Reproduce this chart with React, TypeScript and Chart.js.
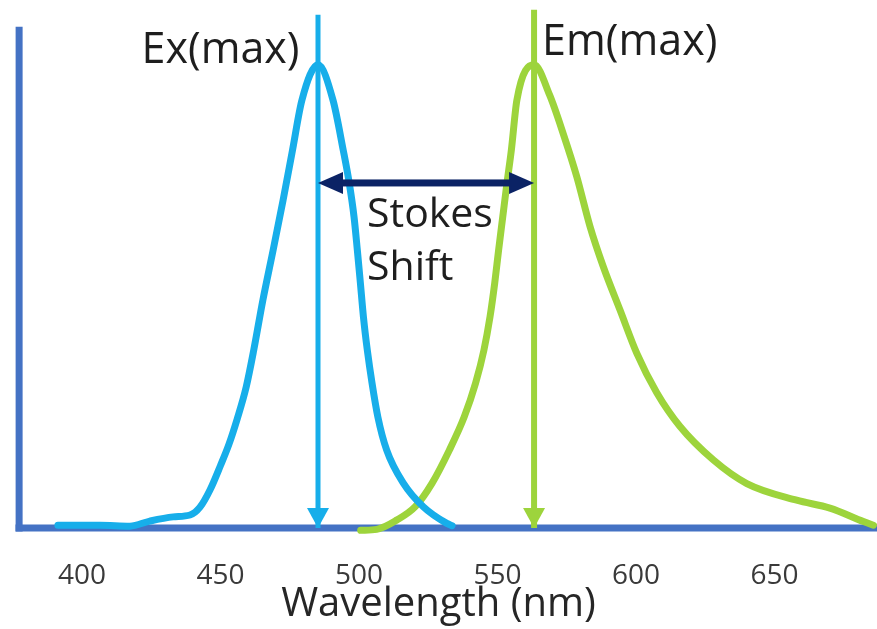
import React, { useEffect, useRef } from 'react';
import { Chart, registerables } from 'chart.js';

Chart.register(...registerables);

// ---- data (wavelength in nm, relative intensity 0..100) ----
const TICKS = [400, 450, 500, 550, 600, 650];

const EX_NM = [391.3, 406.5, 417.3, 424.5, 432.9, 439.0, 442.6, 446.2, 450.0, 453.0, 456.0, 459.3, 462.0, 465.3, 469.0, 472.6, 476.0, 479.4, 485.2, 490.6, 494.3, 496.5, 498.2, 499.4, 500.5, 501.6, 503.0, 504.7, 506.8, 510.0, 516.0, 523.2, 531.7, 533.6];
const EX_VAL = [0.6, 0.6, 0.4, 1.5, 2.4, 2.8, 4.5, 8.2, 13.5, 18.0, 23.5, 30.5, 38.4, 49.2, 60.0, 70.8, 81.6, 92.4, 100, 92.4, 81.6, 74.4, 67.2, 60.0, 52.9, 45.6, 38.4, 31.3, 24.0, 16.8, 9.7, 4.6, 1.0, 0.5];

const EM_NM = [500.6, 506.4, 513.6, 520.3, 526.4, 532.6, 538.0, 542.1, 545.1, 547.3, 549.0, 550.4, 551.9, 553.4, 555.0, 557.0, 563.2, 568.8, 573.8, 578.6, 583.4, 588.2, 594.2, 600.3, 607.5, 615.9, 627.9, 640.0, 658.0, 670.0, 682.1, 685.7];
const EM_VAL = [-0.5, -0.3, 1.7, 4.6, 9.7, 16.8, 24.0, 31.3, 38.4, 45.6, 52.9, 60.0, 67.2, 74.4, 81.6, 92.4, 100, 93.5, 85.0, 75.9, 65.1, 56.4, 47.1, 37.7, 29.2, 21.9, 14.7, 9.6, 6.0, 4.3, 1.4, 0.6];

const EX_PEAK_NM = 485.2;
const EM_PEAK_NM = 563.2;
const EX_LINE_TOP = 110.8;
const EM_LINE_TOP = 111.9;
const STOKES_LEVEL = 74.5;

const X_MIN = 370.4;
const X_MAX = 687.0;
const Y_MIN = 0;
const Y_MAX = 114;

const AXIS_X_START = 376.0;
const Y_AXIS_NM = 377.3;
const Y_AXIS_BOTTOM = -0.75;
const Y_AXIS_TOP = 108.2;

const LABEL_TEXT = ['Ex(max)', 'Em(max)', 'Stokes', 'Shift'];
const LABEL_NM = [421.5, 566.1, 502.9, 502.9];
const LABEL_VAL = [100.4, 102.2, 65.0, 53.6];

// ---- styles ----
const FONT = '"Open Sans", "Noto Sans", sans-serif';
const AXIS_COLOR = '#4472C4';
const EX_COLOR = '#17AEEA';
const EM_COLOR = '#9DD43C';
const NAVY = '#0B2365';
const TEXT_COLOR = '#1E1E1E';

const toPts = (xs: number[], ys: number[]) => xs.map((x, i) => ({ x, y: ys[i] }));

export default function App() {
  const ref = useRef<HTMLCanvasElement>(null);

  useEffect(() => {
    const canvas = ref.current;
    if (!canvas) return;

    const overlay = {
      id: 'overlay',
      afterDatasetsDraw(chart: any) {
        const xs = chart.scales.x;
        const ys = chart.scales.y;
        const ctx = chart.ctx as CanvasRenderingContext2D;
        ctx.save();

        // arrowheads at bottom of the peak markers
        const heads = [
          { nm: EX_PEAK_NM, color: EX_COLOR },
          { nm: EM_PEAK_NM, color: EM_COLOR },
        ];
        for (const h of heads) {
          const px = xs.getPixelForValue(h.nm);
          const tip = ys.getPixelForValue(0);
          ctx.fillStyle = h.color;
          ctx.beginPath();
          ctx.moveTo(px - 11, tip - 20);
          ctx.lineTo(px + 11, tip - 20);
          ctx.lineTo(px, tip);
          ctx.closePath();
          ctx.fill();
        }

        // Stokes shift double arrow
        const y = ys.getPixelForValue(STOKES_LEVEL);
        const x1 = xs.getPixelForValue(EX_PEAK_NM);
        const x2 = xs.getPixelForValue(EM_PEAK_NM);
        const hl = 25;
        const hw = 11;
        ctx.fillStyle = NAVY;
        ctx.fillRect(x1 + hl - 2, y - 3.5, x2 - x1 - 2 * hl + 4, 7);
        ctx.beginPath();
        ctx.moveTo(x1, y);
        ctx.lineTo(x1 + hl, y - hw);
        ctx.lineTo(x1 + hl, y + hw);
        ctx.closePath();
        ctx.fill();
        ctx.beginPath();
        ctx.moveTo(x2, y);
        ctx.lineTo(x2 - hl, y - hw);
        ctx.lineTo(x2 - hl, y + hw);
        ctx.closePath();
        ctx.fill();

        // text labels
        ctx.fillStyle = TEXT_COLOR;
        ctx.textAlign = 'left';
        ctx.textBaseline = 'alphabetic';
        LABEL_TEXT.forEach((t, i) => {
          ctx.font = `${i < 2 ? 43 : 41}px ${FONT}`;
          ctx.fillText(t, xs.getPixelForValue(LABEL_NM[i]), ys.getPixelForValue(LABEL_VAL[i]));
        });

        ctx.restore();
      },
    };

    const curve = (label: string, data: any, color: string) => ({
      label,
      data,
      borderColor: color,
      borderWidth: 7,
      pointRadius: 0,
      cubicInterpolationMode: 'monotone',
      borderCapStyle: 'round',
      borderJoinStyle: 'round',
      clip: false,
      order: 2,
    });

    const chart = new Chart(canvas, {
      type: 'line',
      data: {
        datasets: [
          {
            label: 'Ex marker',
            data: [{ x: EX_PEAK_NM, y: 0 }, { x: EX_PEAK_NM, y: EX_LINE_TOP }],
            borderColor: EX_COLOR,
            borderWidth: 5,
            pointRadius: 0,
            tension: 0,
            clip: false,
            order: 1,
          },
          {
            label: 'Em marker',
            data: [{ x: EM_PEAK_NM, y: 0 }, { x: EM_PEAK_NM, y: EM_LINE_TOP }],
            borderColor: EM_COLOR,
            borderWidth: 6,
            pointRadius: 0,
            tension: 0,
            clip: false,
            order: 1,
          },
          curve('Excitation', toPts(EX_NM, EX_VAL), EX_COLOR),
          curve('Emission', toPts(EM_NM, EM_VAL), EM_COLOR),
          {
            label: 'x axis',
            data: [{ x: AXIS_X_START, y: 0 }, { x: X_MAX, y: 0 }],
            borderColor: AXIS_COLOR,
            borderWidth: 7,
            pointRadius: 0,
            tension: 0,
            clip: false,
            order: 3,
          },
          {
            label: 'y axis',
            data: [{ x: Y_AXIS_NM, y: Y_AXIS_BOTTOM }, { x: Y_AXIS_NM, y: Y_AXIS_TOP }],
            borderColor: AXIS_COLOR,
            borderWidth: 7,
            pointRadius: 0,
            tension: 0,
            clip: false,
            order: 3,
          },
        ],
      },
      options: {
        animation: false,
        responsive: false,
        layout: { padding: 0 },
        plugins: {
          legend: { display: false },
          tooltip: { enabled: false },
        },
        elements: { point: { radius: 0 } },
        scales: {
          x: {
            type: 'linear',
            min: X_MIN,
            max: X_MAX,
            grid: { display: false },
            border: { display: false },
            ticks: {
              font: { family: FONT, size: 28 },
              color: '#3A3A3A',
              padding: 23,
              maxRotation: 0,
              autoSkip: false,
            },
            afterBuildTicks: (s: any) => {
              s.ticks = TICKS.map((v) => ({ value: v }));
            },
            afterFit: (s: any) => {
              s.height = 101;
            },
            title: {
              display: true,
              text: 'Wavelength (nm)',
              font: { family: FONT, size: 40 },
              color: '#262626',
              padding: { top: 0, bottom: 0 },
            },
          },
          y: {
            type: 'linear',
            display: false,
            min: Y_MIN,
            max: Y_MAX,
          },
        },
      },
      plugins: [overlay],
    } as any);

    return () => chart.destroy();
  }, []);

  return (
    <div style={{ position: 'fixed', left: 0, top: 0, width: 877, height: 629, background: '#fff' }}>
      <canvas ref={ref} width={877} height={629} style={{ display: 'block' }} />
    </div>
  );
}
